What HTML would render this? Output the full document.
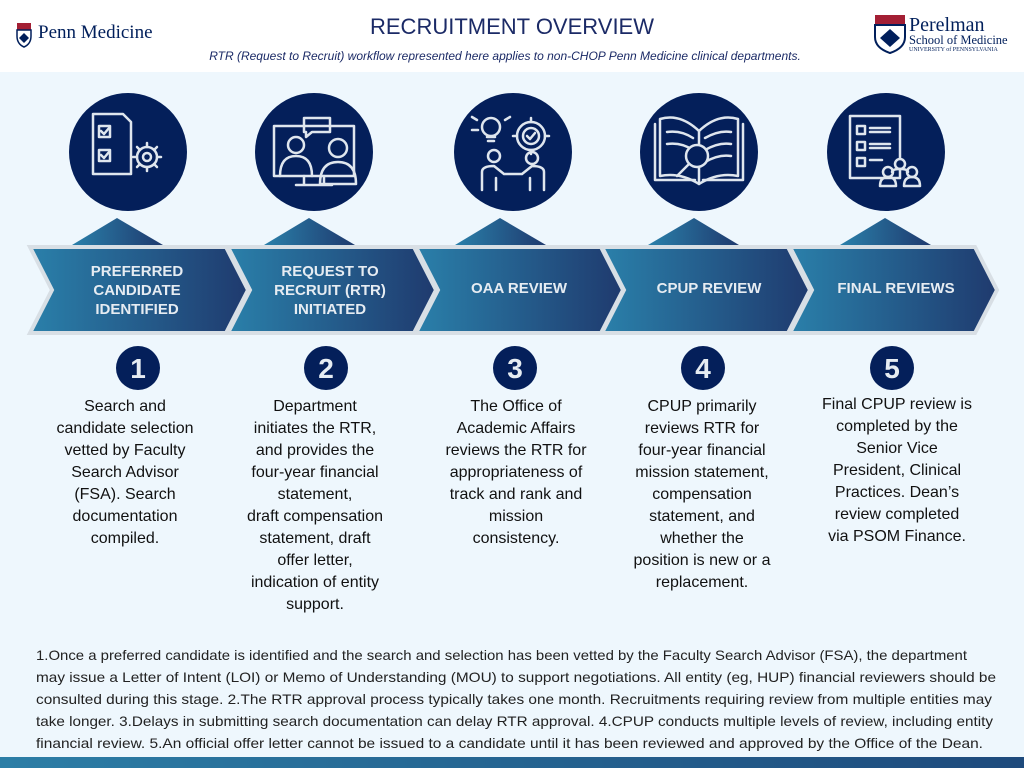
<!DOCTYPE html>
<html><head><meta charset="utf-8"><style>
html,body{margin:0;padding:0;width:1024px;height:768px;overflow:hidden;background:#eef7fd}
svg{display:block}
</style></head><body>
<svg width="1024" height="768" viewBox="0 0 1024 768" xmlns="http://www.w3.org/2000/svg" font-family="Liberation Sans, sans-serif">
<defs>
<linearGradient id="g" x1="0" x2="1" y1="0" y2="0"><stop offset="0" stop-color="#2a80aa"/><stop offset="1" stop-color="#1f3a6e"/></linearGradient>
<linearGradient id="gb" x1="0" x2="1"><stop offset="0" stop-color="#2c7ea6"/><stop offset="1" stop-color="#1e4a7c"/></linearGradient>
</defs>
<rect x="0" y="0" width="1024" height="72" fill="#ffffff"/>
<rect x="0" y="72" width="1024" height="685" fill="#eef7fd"/>
<rect x="0" y="757" width="1024" height="11" fill="url(#gb)"/>

<!-- header -->
<g>
<rect x="17" y="23" width="14" height="7" fill="#a31f34"/>
<path d="M17 30 h14 v6 q0 8 -7 11 q-7 -3 -7 -11z" fill="#fff" stroke="#011f5b" stroke-width="1.5"/>
<path d="M19 38 l5 -5 l5 5 l-5 5z" fill="#011f5b"/>
<text x="38" y="38" font-family="Liberation Serif, serif" font-size="19" fill="#011f5b">Penn Medicine</text>
</g>
<text x="512" y="34" text-anchor="middle" font-size="22" fill="#1b2a66">RECRUITMENT OVERVIEW</text>
<text x="505" y="60" text-anchor="middle" font-size="12" font-style="italic" fill="#1b2a66">RTR (Request to Recruit) workflow represented here applies to non-CHOP Penn Medicine clinical departments.</text>
<g>
<rect x="875" y="15" width="30" height="10" fill="#a31f34"/>
<path d="M875 25 h30 v12 q0 11 -15 16 q-15 -5 -15 -16z" fill="#fff" stroke="#011f5b" stroke-width="2"/>
<path d="M880 38 l10 -9 l10 9 l-10 9z" fill="#011f5b"/>
<text x="909" y="31" font-family="Liberation Serif, serif" font-size="20" fill="#011f5b">Perelman</text>
<text x="909" y="44" font-family="Liberation Serif, serif" font-size="12.5" fill="#011f5b">School of Medicine</text>
<text x="909" y="51" font-family="Liberation Serif, serif" font-size="6" fill="#011f5b">UNIVERSITY of PENNSYLVANIA</text>
</g>

<!-- circles -->
<g fill="#041f5a">
<circle cx="128" cy="152" r="59"/><circle cx="314" cy="152" r="59"/><circle cx="513" cy="152" r="59"/><circle cx="699" cy="152" r="59"/><circle cx="886" cy="152" r="59"/>
</g>
<!-- triangles -->
<g fill="url(#g)">
<path d="M72 245 L117 218 L163 245Z"/><path d="M264 245 L309 218 L355 245Z"/><path d="M455 245 L500 218 L546 245Z"/><path d="M648 245 L694 218 L739 245Z"/><path d="M840 245 L885 218 L931 245Z"/>
</g>
<!-- chevrons -->
<g fill="url(#g)" stroke="#d8dfe5" stroke-width="4" stroke-linejoin="miter">
<path d="M30 247 H226 L248 290 L226 333 H30 L52 290Z"/>
<path d="M228 247 H414 L436 290 L414 333 H228 L250 290Z"/>
<path d="M416 247 H601 L623 290 L601 333 H416 L438 290Z"/>
<path d="M602 247 H788 L810 290 L788 333 H602 L624 290Z"/>
<path d="M790 247 H975 L997 290 L975 333 H790 L812 290Z"/>
</g>
<g fill="#e6ecf2" font-weight="bold" font-size="15" text-anchor="middle">
<text x="137" y="276">PREFERRED</text><text x="137" y="295">CANDIDATE</text><text x="137" y="314">IDENTIFIED</text>
<text x="330" y="276">REQUEST TO</text><text x="330" y="295">RECRUIT (RTR)</text><text x="330" y="314">INITIATED</text>
<text x="519" y="293">OAA REVIEW</text>
<text x="709" y="293">CPUP REVIEW</text>
<text x="896" y="293">FINAL REVIEWS</text>
</g>

<!-- icons -->
<g fill="none" stroke="#dfe6ee" stroke-width="2.5" stroke-linecap="round" stroke-linejoin="round">
<!-- 1 -->
<path d="M93 114 h30 l8 8 v52 h-38z"/>
<rect x="99" y="126" width="11" height="11"/><path d="M101 131 l3 3 l5 -6"/>
<rect x="99" y="150" width="11" height="11"/><path d="M101 155 l3 3 l5 -6"/>
<circle cx="147" cy="157" r="10"/><circle cx="147" cy="157" r="4"/>
<path d="M147 143 v4 M147 167 v4 M133 157 h4 M157 157 h4 M137 147 l3 3 M154 164 l3 3 M157 147 l-3 3 M137 167 l3 -3"/>
<!-- 2 -->
<rect x="274" y="126" width="80" height="50"/><path d="M304 176 v8 M324 176 v8 M296 185 h36"/>
<path d="M304 118 h26 v14 h-18 l-6 5 v-5 h-2z"/>
<circle cx="296" cy="145" r="8"/><path d="M280 176 q0 -20 16 -20 q16 0 16 20"/>
<circle cx="338" cy="148" r="9"/><path d="M320 184 q0 -22 18 -22 q18 0 18 22z"/>
<!-- 3 -->
<circle cx="491" cy="127" r="9"/><path d="M487 137 h8 M488 141 h6"/>
<circle cx="531" cy="136" r="14"/><circle cx="531" cy="136" r="8"/><path d="M527 136 l3 3 l5 -6"/>
<path d="M531 118 v4 M531 150 v4 M513 136 h4 M545 136 h4"/>
<circle cx="494" cy="156" r="6"/><circle cx="532" cy="158" r="6"/>
<path d="M482 190 v-18 q0 -6 12 -6 l10 8 M544 190 v-18 q0 -6 -12 -6 l-10 8 M504 174 h18 M496 190 v-12 M530 190 v-12"/>
<path d="M477 120 l-5 -3 M478 130 h-6 M505 120 l5 -3"/>
<!-- 4 -->
<path d="M660 119 q20 -6 39 12 q19 -18 39 -12 v57 q-20 -4 -39 8 q-19 -12 -39 -8z"/>
<path d="M655 124 v56 h40 M743 124 v56 h-40 M699 131 v53"/>
<path d="M667 132 q14 -2 26 6 M667 144 q14 -2 26 6 M705 138 q14 -8 26 -6 M705 150 q14 -8 26 -6 M705 162 q14 -8 26 -6"/>
<circle cx="697" cy="156" r="11" fill="#041f5a"/><path d="M689 164 l-12 12"/>
<!-- 5 -->
<rect x="850" y="116" width="50" height="62"/>
<rect x="857" y="126" width="8" height="8"/><rect x="857" y="142" width="8" height="8"/><rect x="857" y="158" width="8" height="8"/>
<path d="M870 128 h20 M870 132 h20 M870 144 h20 M870 148 h20 M870 160 h12"/>
<circle cx="900" cy="164" r="5" fill="#041f5a"/><circle cx="888" cy="172" r="5" fill="#041f5a"/><circle cx="912" cy="172" r="5" fill="#041f5a"/>
<path d="M880 186 q0 -9 8 -9 q8 0 8 9z M904 186 q0 -9 8 -9 q8 0 8 9z M892 172 q0 -3 8 -3 q8 0 8 3"/>
</g>

<!-- number circles -->
<g fill="#041f5a"><circle cx="138" cy="368" r="22"/><circle cx="326" cy="368" r="22"/><circle cx="515" cy="368" r="22"/><circle cx="703" cy="368" r="22"/><circle cx="892" cy="368" r="22"/></g>
<g fill="#e6ecf2" font-weight="bold" font-size="28" text-anchor="middle">
<text x="138" y="378">1</text><text x="326" y="378">2</text><text x="515" y="378">3</text><text x="703" y="378">4</text><text x="892" y="378">5</text>
</g>

<!-- body text -->
<g fill="#111" font-size="16" text-anchor="middle">
<text x="125" y="411">Search and</text><text x="125" y="433">candidate selection</text><text x="125" y="455">vetted by Faculty</text><text x="125" y="477">Search Advisor</text><text x="125" y="499">(FSA). Search</text><text x="125" y="521">documentation</text><text x="125" y="543">compiled.</text>
<text x="315" y="411">Department</text><text x="315" y="433">initiates the RTR,</text><text x="315" y="455">and provides the</text><text x="315" y="477">four-year financial</text><text x="315" y="499">statement,</text><text x="315" y="521">draft compensation</text><text x="315" y="543">statement, draft</text><text x="315" y="565">offer letter,</text><text x="315" y="587">indication of entity</text><text x="315" y="609">support.</text>
<text x="516" y="411">The Office of</text><text x="516" y="433">Academic Affairs</text><text x="516" y="455">reviews the RTR for</text><text x="516" y="477">appropriateness of</text><text x="516" y="499">track and rank and</text><text x="516" y="521">mission</text><text x="516" y="543">consistency.</text>
<text x="702" y="411">CPUP primarily</text><text x="702" y="433">reviews RTR for</text><text x="702" y="455">four-year financial</text><text x="702" y="477">mission statement,</text><text x="702" y="499">compensation</text><text x="702" y="521">statement, and</text><text x="702" y="543">whether the</text><text x="702" y="565">position is new or a</text><text x="702" y="587">replacement.</text>
<text x="897" y="409">Final CPUP review is</text><text x="897" y="431">completed by the</text><text x="897" y="453">Senior Vice</text><text x="897" y="475">President, Clinical</text><text x="897" y="497">Practices. Dean’s</text><text x="897" y="519">review completed</text><text x="897" y="541">via PSOM Finance.</text>
</g>

<!-- footnotes -->
<g fill="#222" font-size="14" lengthAdjust="spacingAndGlyphs">
<text x="36" y="660" textLength="931" lengthAdjust="spacingAndGlyphs">1.Once a preferred candidate is identified and the search and selection has been vetted by the Faculty Search Advisor (FSA), the department</text>
<text x="36" y="682" textLength="960" lengthAdjust="spacingAndGlyphs">may issue a Letter of Intent (LOI) or Memo of Understanding (MOU) to support negotiations. All entity (eg, HUP) financial reviewers should be</text>
<text x="36" y="704" textLength="956" lengthAdjust="spacingAndGlyphs">consulted during this stage. 2.The RTR approval process typically takes one month. Recruitments requiring review from multiple entities may</text>
<text x="36" y="726" textLength="957" lengthAdjust="spacingAndGlyphs">take longer. 3.Delays in submitting search documentation can delay RTR approval. 4.CPUP conducts multiple levels of review, including entity</text>
<text x="36" y="748" textLength="947" lengthAdjust="spacingAndGlyphs">financial review.  5.An official offer letter cannot be issued to a candidate until it has been reviewed and approved by the Office of the Dean.</text>
</g>
</svg>
</body></html>
